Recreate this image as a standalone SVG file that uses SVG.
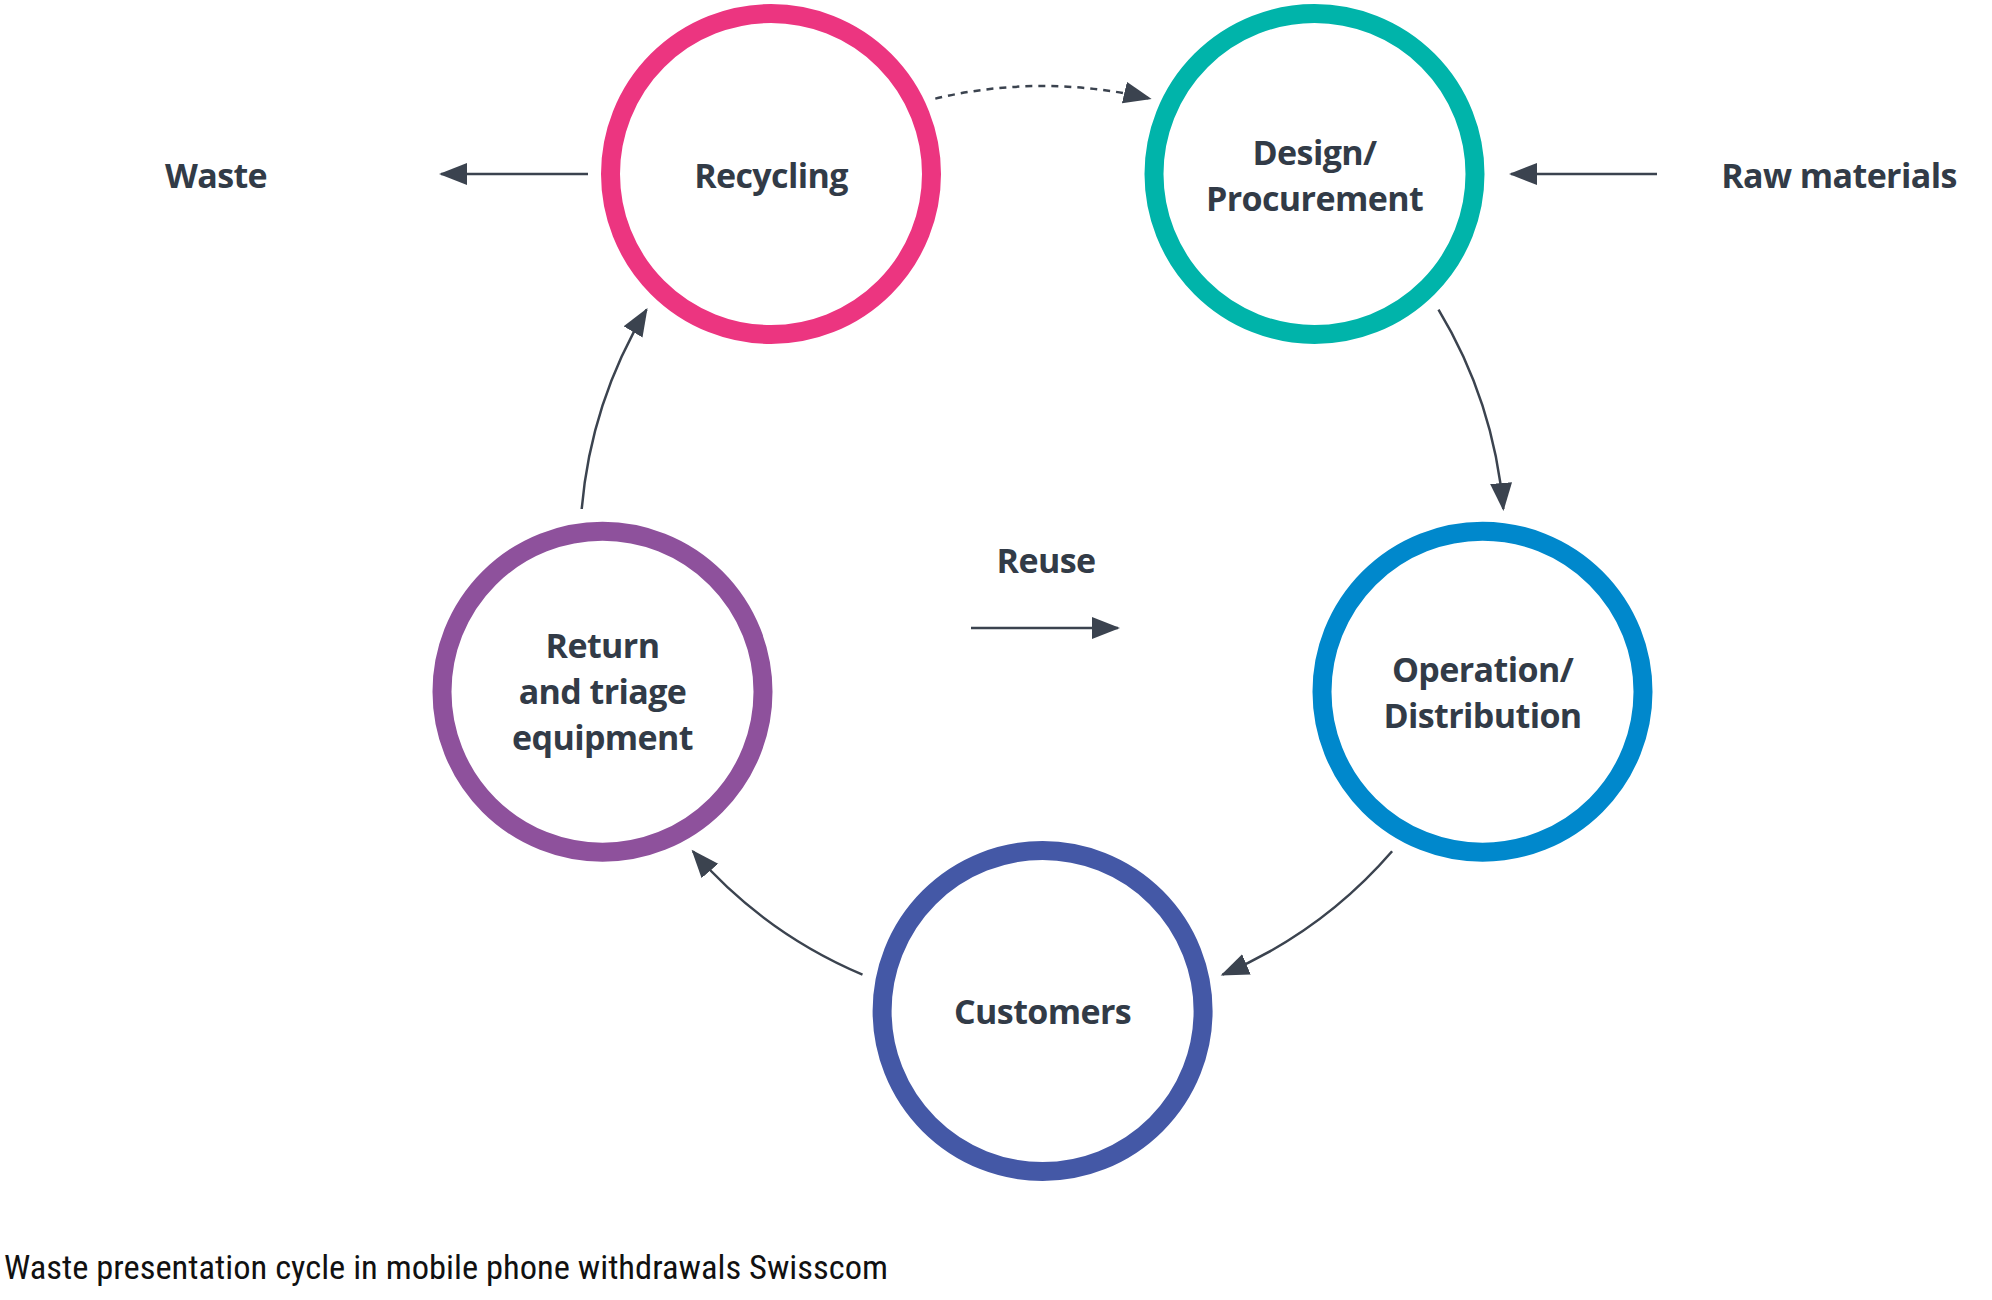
<svg xmlns="http://www.w3.org/2000/svg" width="1992" height="1300" viewBox="0 0 1992 1300">
  <defs>
    <marker id="ah" markerUnits="userSpaceOnUse" markerWidth="30" markerHeight="24" refX="26" refY="11" orient="auto">
      <path d="M0,0 L28,11 L0,22 z" fill="#3B434F"/>
    </marker>
    <style>
      .ring { fill: #ffffff; stroke-width: 19; }
      .lbl { font-family: "Open Sans", "Noto Sans", "Liberation Sans", sans-serif; font-weight: 700; font-size: 34px; letter-spacing: -0.6px; fill: #323B47; text-anchor: middle; }
      .conn { fill: none; stroke: #3B434F; stroke-width: 2.5; marker-end: url(#ah); }
      .dash { stroke-dasharray: 7 6; }
      .cap { font-family: "Liberation Sans Narrow", "Roboto Condensed", "Open Sans", sans-serif; font-size: 33px; fill: #111111; }
    </style>
  </defs>
  <rect width="1992" height="1300" fill="#ffffff"/>

  <g id="connectors">
    <path class="conn dash" d="M935.3,98.6 A462.5,462.5 0 0 1 1149.7,98.6"/>
    <path class="conn" d="M1438.5,309.6 A462.5,462.5 0 0 1 1503.3,509"/>
    <path class="conn" d="M1392.1,851.3 A462.5,462.5 0 0 1 1222.5,974.6"/>
    <path class="conn" d="M862.5,974.6 A462.5,462.5 0 0 1 692.9,851.3"/>
    <path class="conn" d="M581.7,509 A462.5,462.5 0 0 1 646.5,309.6"/>
    <path class="conn" d="M588,174 L441,174"/>
    <path class="conn" d="M1657,174 L1511,174"/>
    <path class="conn" d="M971,628 L1118,628"/>
  </g>

  <g id="recycling">
    <circle class="ring" cx="771" cy="174" r="160.5" stroke="#EC3580"/>
    <text class="lbl" x="771" y="188">Recycling</text>
  </g>
  <g id="design">
    <circle class="ring" cx="1314.5" cy="174" r="160.5" stroke="#00B4AA"/>
    <text class="lbl" x="1314.5" y="165">Design/</text>
    <text class="lbl" x="1314.5" y="211">Procurement</text>
  </g>
  <g id="operation">
    <circle class="ring" cx="1482.5" cy="691.7" r="160.5" stroke="#0088CC"/>
    <text class="lbl" x="1482.5" y="682">Operation/</text>
    <text class="lbl" x="1482.5" y="728">Distribution</text>
  </g>
  <g id="customers">
    <circle class="ring" cx="1042.6" cy="1011" r="160.5" stroke="#4458A6"/>
    <text class="lbl" x="1042.6" y="1024">Customers</text>
  </g>
  <g id="return">
    <circle class="ring" cx="602.5" cy="691.7" r="160.5" stroke="#8E519C"/>
    <text class="lbl" x="602.5" y="658">Return</text>
    <text class="lbl" x="602.5" y="704">and triage</text>
    <text class="lbl" x="602.5" y="750">equipment</text>
  </g>
  <g id="waste">
    <text class="lbl" x="216" y="188">Waste</text>
  </g>
  <g id="raw-materials">
    <text class="lbl" x="1839" y="188">Raw materials</text>
  </g>
  <g id="reuse">
    <text class="lbl" x="1046" y="573">Reuse</text>
  </g>
  <text class="cap" x="4" y="1279" textLength="884" lengthAdjust="spacingAndGlyphs">Waste presentation cycle in mobile phone withdrawals Swisscom</text>
</svg>
